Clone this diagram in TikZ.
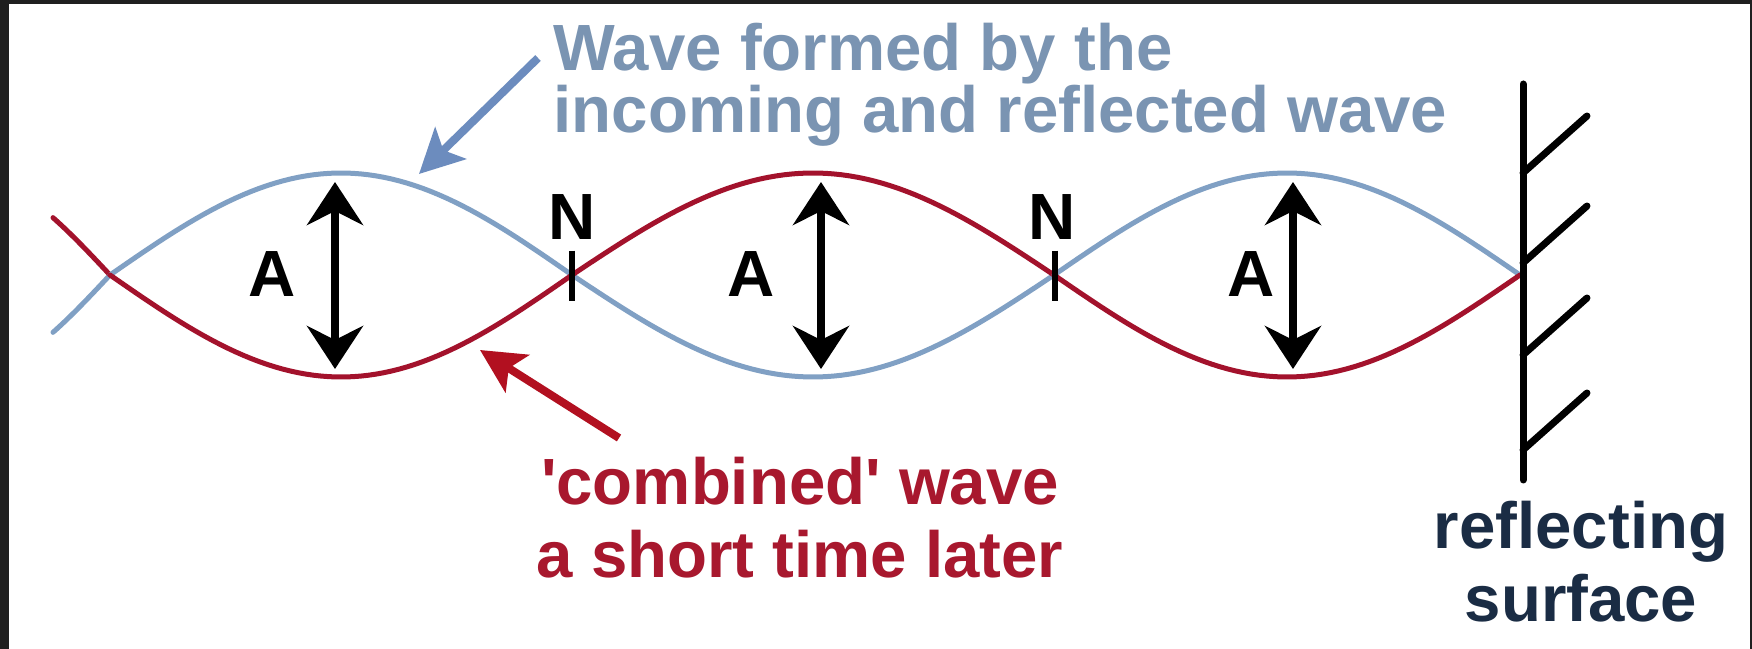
\documentclass[tikz,border=0pt]{standalone}
\usepackage{fontspec}
\setmainfont{Liberation Sans}
\usetikzlibrary{arrows.meta}
\definecolor{wavered}{RGB}{163,18,44}
\definecolor{waveblue}{RGB}{128,160,196}
\definecolor{lblblue}{RGB}{122,148,178}
\definecolor{ptrblue}{RGB}{108,140,190}
\definecolor{lblred}{RGB}{168,24,46}
\definecolor{ptrred}{RGB}{178,16,32}
\definecolor{lblnavy}{RGB}{26,44,68}
\definecolor{framegray}{RGB}{31,31,31}

\begin{document}
\begin{tikzpicture}[x=0.1mm,y=-0.1mm,
  bluewave/.style={waveblue,line width=0.5mm,line cap=round},
  redwave/.style={wavered,line width=0.5mm,line cap=round},
  amp/.style={line width=0.75mm,{Stealth[length=4.3mm,width=5.6mm,inset=1.4mm]}-{Stealth[length=4.3mm,width=5.6mm,inset=1.4mm]}},
  pointer/.style={line width=0.8mm,-{Stealth[length=4.4mm,width=4.4mm,inset=1mm]}},
  lbl/.style={font=\fontsize{18.6}{17.9}\selectfont\bfseries,inner sep=0pt},
  wall/.style={line width=0.7mm,line cap=round}]
% frame
\fill[framegray] (0,0) rectangle (1752,649);
\fill[white] (9,4) rectangle (1750,649);
\useasboundingbox (0,0) rectangle (1752,649);

% the two waves
\draw[bluewave] plot[domain=53:110,samples=20] (\x,{275+102*sin(180/300*(110-\x))});
\draw[redwave] plot[domain=53:110,samples=20] (\x,{275-102*sin(180/300*(110-\x))});
\foreach \a/\b/\s in {110/572/1,572/1054/-1,1054/1520/1}{
  \draw[bluewave] plot[domain=\a:\b,samples=60] (\x,{275-(\s)*102*sin(180/(\b-\a)*(\x-\a))});
  \draw[redwave] plot[domain=\a:\b,samples=60] (\x,{275+(\s)*102*sin(180/(\b-\a)*(\x-\a))});
}

% amplitudes
\coordinate (t1) at (335,182);
\coordinate (b1) at (335,369);
\coordinate (t2) at (821,182);
\coordinate (b2) at (821,369);
\coordinate (t3) at (1293,182);
\coordinate (b3) at (1293,369);
\draw[amp] (t1)--(b1);
\draw[amp] (t2)--(b2);
\draw[amp] (t3)--(b3);
\node[lbl,anchor=base] (a1) at (272,297) {A};
\node[lbl,anchor=base] (a2) at (751,297) {A};
\node[lbl,anchor=base] (a3) at (1251,297) {A};

% nodes
\node[lbl,anchor=base] (n1) at (572,240) {N};
\node[lbl,anchor=base] (n2) at (1052,240) {N};
\draw[line width=0.6mm] ([yshift=-1mm]n1.south)--++(0,50);
\draw[line width=0.6mm] ([yshift=-1mm,xshift=0.3mm]n2.south)--++(0,50);

% reflecting surface
\draw[wall] (1523,84)--(1523,480);
\foreach \y in {173,263,355,450}
  \draw[wall] (1523,\y)--++(64,-57);
\node[lbl,text=lblnavy,align=center,anchor=base,font=\fontsize{18.6}{21}\selectfont\bfseries] (surface) at (1581,622) {reflecting\\surface};

% labels with pointers
\node[lbl,text=lblblue,align=left,anchor=base west] (incoming) at (553,133) {Wave formed by the\\incoming and reflected wave};
\coordinate (bluetail) at (538,58);
\coordinate (bluetip) at (419,174);
\draw[pointer,ptrblue] (bluetail)--(bluetip);

\node[lbl,text=lblred,align=center,anchor=base,font=\fontsize{18.6}{20.8}\selectfont\bfseries] (combined) at (800,578) {\textquotesingle combined\textquotesingle\ wave\\a short time later};
\coordinate (redtail) at (619,438);
\coordinate (redtip) at (480,350);
\draw[pointer,ptrred] (redtail)--(redtip);
\end{tikzpicture}
\end{document}
